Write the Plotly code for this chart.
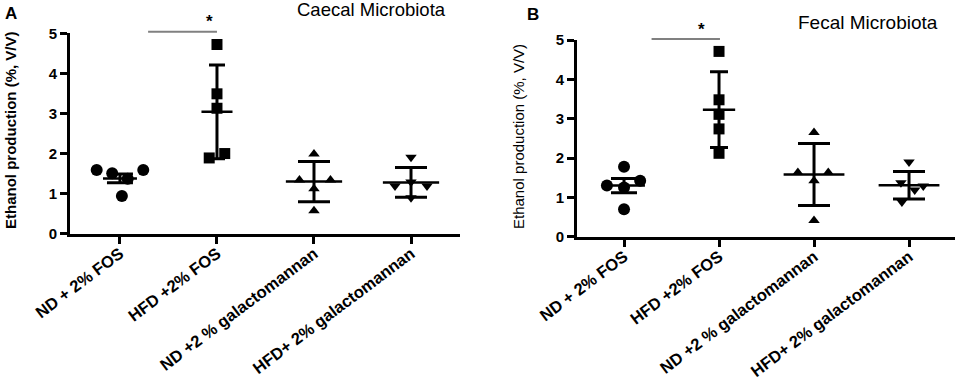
import plotly.graph_objects as go

# ---------------- data ----------------
categories = ["ND + 2% FOS", "HFD +2% FOS", "ND +2 % galactomannan", "HFD+ 2% galactomannan"]
symbols = ["circle", "square", "triangle-up", "triangle-down"]

# Caecal microbiota (panel A): individual values per group
caecal_nd_fos = [1.59, 1.51, 0.94, 1.37, 1.59]
caecal_hfd_fos = [1.89, 4.72, 3.49, 3.13, 2.00]
caecal_nd_gal = [1.34, 1.99, 1.34, 1.12, 0.57]
caecal_hfd_gal = [1.19, 1.91, 1.29, 1.19, 0.90]
caecal_mean = [1.38, 3.04, 1.30, 1.28]
caecal_sd = [0.11, 1.17, 0.50, 0.37]

# Fecal microbiota (panel B)
fecal_nd_fos = [1.30, 1.78, 1.25, 1.42, 0.70]
fecal_hfd_fos = [4.71, 3.48, 3.11, 2.74, 2.12]
fecal_nd_gal = [1.63, 2.65, 1.42, 1.63, 0.41]
fecal_hfd_gal = [1.90, 1.37, 1.19, 1.29, 0.88]
fecal_mean = [1.30, 3.23, 1.58, 1.31]
fecal_sd = [0.18, 0.96, 0.79, 0.35]

y_ticks = [0, 1, 2, 3, 4, 5]

# ---------------- layout / style helpers ----------------
caecal_jitter = [[-0.24, -0.08, 0.02, 0.08, 0.24],
                 [-0.08, 0, 0, 0, 0.08],
                 [-0.15, 0, 0.17, 0, 0],
                 [-0.165, 0, 0, 0.165, 0]]
fecal_jitter = [[-0.18, 0, 0, 0.17, 0],
                [0, 0, 0, 0, 0],
                [-0.17, 0, 0, 0.15, 0],
                [0, -0.085, 0.06, 0.15, -0.075]]
caecal_meanline_hw = [0.175, 0.16, 0.29, 0.29]
fecal_meanline_hw = [0.22, 0.17, 0.32, 0.32]
caecal_cap = [13, 8, 16, 16]
fecal_cap = [13, 9, 16, 16]
marker_sizes = [12, 11, 10, 10]

FONT = "Liberation Sans, Arial, sans-serif"

caecal_groups = [caecal_nd_fos, caecal_hfd_fos, caecal_nd_gal, caecal_hfd_gal]
fecal_groups = [fecal_nd_fos, fecal_hfd_fos, fecal_nd_gal, fecal_hfd_gal]

fig = go.Figure()


def add_panel(groups, means, sds, jitter, hws, caps, xa, ya):
    for g in range(len(categories)):
        fig.add_trace(go.Scatter(
            x=[g], y=[means[g]], mode="markers",
            marker=dict(size=1, color="rgba(0,0,0,0)"),
            error_y=dict(type="data", array=[sds[g]], width=caps[g], thickness=3, color="black"),
            error_x=dict(type="data", array=[hws[g]], width=0, thickness=2.5, color="black"),
            xaxis=xa, yaxis=ya, showlegend=False, hoverinfo="skip"))
    for g, vals in enumerate(groups):
        fig.add_trace(go.Scatter(
            x=[g + j for j in jitter[g]], y=vals, mode="markers",
            marker=dict(symbol=symbols[g], size=marker_sizes[g], color="black"),
            xaxis=xa, yaxis=ya, showlegend=False, cliponaxis=False))


add_panel(caecal_groups, caecal_mean, caecal_sd, caecal_jitter, caecal_meanline_hw, caecal_cap, "x", "y")
add_panel(fecal_groups, fecal_mean, fecal_sd, fecal_jitter, fecal_meanline_hw, fecal_cap, "x2", "y2")

xcommon = dict(
    tickmode="array", tickvals=list(range(len(categories))), ticktext=categories,
    tickangle=-37, showline=True, linecolor="black", linewidth=3,
    ticks="outside", ticklen=7, tickwidth=2.5, tickcolor="black",
    ticklabelstandoff=-6,
    showgrid=False, zeroline=False, automargin=False,
    tickfont=dict(family=FONT, size=16.5, color="black", weight="bold"),
)
ycommon = dict(
    tickmode="array", tickvals=y_ticks, range=[0, 5],
    showline=True, linecolor="black", linewidth=3,
    ticks="outside", ticklen=7, tickwidth=2.5, tickcolor="black",
    showgrid=False, zeroline=False, automargin=False,
    tickfont=dict(family=FONT, size=15, color="black", weight="bold"),
)

W, H = 957, 378
fig.update_layout(
    width=W, height=H,
    margin=dict(l=0, r=0, t=0, b=0, autoexpand=False),
    paper_bgcolor="white", plot_bgcolor="white",
    xaxis=dict(xcommon, domain=[70 / W, 460 / W], range=[-0.515, 3.505], anchor="y"),
    yaxis=dict(ycommon, domain=[1 - 233.7 / H, 1 - 33.3 / H], anchor="x"),
    xaxis2=dict(xcommon, domain=[577 / W, 955 / W], range=[-0.495, 3.484], anchor="y2"),
    yaxis2=dict(ycommon, domain=[1 - 236.7 / H, 1 - 40 / H], anchor="x2"),
    showlegend=False,
)

# significance bars between group 0 and 1
sig_groups = (0, 1)
fig.add_shape(type="line", xref="x", yref="paper", x0=sig_groups[0] + 0.29, x1=sig_groups[1],
              y0=1 - 31.7 / H, y1=1 - 31.7 / H, line=dict(color="#808080", width=2))
fig.add_shape(type="line", xref="x2", yref="paper", x0=sig_groups[0] + 0.29, x1=sig_groups[1] + 0.01,
              y0=1 - 39 / H, y1=1 - 39 / H, line=dict(color="#808080", width=2))

ann = [
    dict(text="*", x=0.92, xref="x", y=1 - 22 / H, yref="paper", font=dict(size=17, weight="bold")),
    dict(text="*", x=0.82, xref="x2", y=1 - 29 / H, yref="paper", font=dict(size=17, weight="bold")),
    dict(text="Ethanol production (%, V/V)", x=10 / W, y=1 - 130 / H, xref="paper", yref="paper",
         textangle=-90, font=dict(size=15, weight="bold")),
    dict(text="Ethanol production (%, V/V)", x=518 / W, y=1 - 137 / H, xref="paper", yref="paper",
         textangle=-90, font=dict(size=15)),
    dict(text="Caecal Microbiota", x=371 / W, y=1 - 9 / H, xref="paper", yref="paper",
         font=dict(size=18.5)),
    dict(text="Fecal Microbiota", x=868 / W, y=1 - 23 / H, xref="paper", yref="paper",
         font=dict(size=19)),
    dict(text="A", x=11 / W, y=1 - 13 / H, xref="paper", yref="paper", font=dict(size=17, weight="bold")),
    dict(text="B", x=533 / W, y=1 - 15 / H, xref="paper", yref="paper", font=dict(size=17, weight="bold")),
]
for a in ann:
    a.setdefault("showarrow", False)
    a["xanchor"] = "center"
    a["yanchor"] = "middle"
    a["font"] = dict(family=FONT, color="black", **a["font"])
    fig.add_annotation(**a)

fig.write_html("out.html", config={"displayModeBar": False},
               post_script="document.body.style.margin='0';document.body.style.overflow='hidden';")
